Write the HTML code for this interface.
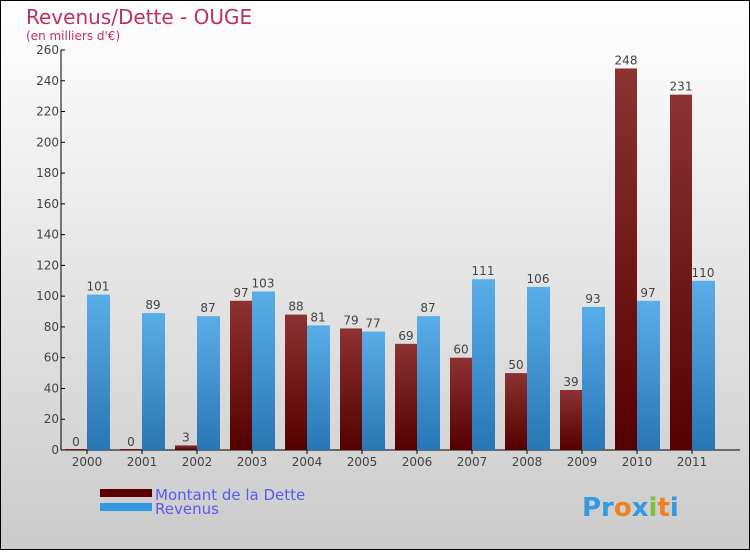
<!DOCTYPE html>
<html><head><meta charset="utf-8"><style>
body{margin:0}
svg text{font-family:"DejaVu Sans","Liberation Sans",sans-serif}
</style></head><body>
<svg width="750" height="550" xmlns="http://www.w3.org/2000/svg">
<defs>
<linearGradient id="bg" x1="0" y1="0" x2="0" y2="1"><stop offset="0" stop-color="#ffffff"/><stop offset="1" stop-color="#cbcbcb"/></linearGradient>
<linearGradient id="gd" x1="0" y1="0" x2="0" y2="1"><stop offset="0" stop-color="#8c3232"/><stop offset="1" stop-color="#550000"/></linearGradient>
<linearGradient id="gr" x1="0" y1="0" x2="0" y2="1"><stop offset="0" stop-color="#5aaee8"/><stop offset="1" stop-color="#2876b4"/></linearGradient>
</defs>
<rect x="0.5" y="0.5" width="749" height="549" fill="url(#bg)" stroke="#000"/>
<text x="26" y="24" font-size="20" fill="#c0305e">Revenus/Dette - OUGE</text>
<text x="26" y="40" font-size="12" fill="#c0305e">(en milliers d'€)</text>
<g id="axes"></g>
<g id="bars"></g>
<rect x="100" y="489" width="52" height="8" fill="#5a0000"/>
<text x="155" y="500" font-size="15" fill="#5a5af0">Montant de la Dette</text>
<rect x="100" y="503" width="52" height="8" fill="#3399e0"/>
<text x="155" y="514" font-size="15" fill="#5a5af0">Revenus</text>
<text x="582" y="516" font-size="26" font-weight="bold"><tspan fill="#3399e0">Pr</tspan><tspan fill="#f08020">o</tspan><tspan fill="#3399e0">x</tspan><tspan fill="#80c040">i</tspan><tspan fill="#f08020">t</tspan><tspan fill="#3399e0">i</tspan></text>
</svg>
<script>
const categories=["2000","2001","2002","2003","2004","2005","2006","2007","2008","2009","2010","2011"];
const dette=[0,0,3,97,88,79,69,60,50,39,248,231];
const revenus=[101,89,87,103,81,77,87,111,106,93,97,110];
const yTicks=[0,20,40,60,80,100,120,140,160,180,200,220,240,260];
const NS="http://www.w3.org/2000/svg";
const y0=450,yTop=50,yMax=260,x0=61,x1=740,gw=55,c0=87,bw=22;
const y=v=>y0-(v/yMax)*(y0-yTop);
const cx=i=>c0+i*gw;
function mk(t,a,p){const e=document.createElementNS(NS,t);for(const k in a)e.setAttribute(k,a[k]);p.appendChild(e);return e;}
const ax=document.getElementById('axes'),bs=document.getElementById('bars');
let l=mk('line',{x1:x0,y1:yTop,x2:x0,y2:y0,stroke:'#000'},ax);


l=mk('line',{x1:x0,y1:y0,x2:x1,y2:y0,stroke:'#000'},ax);


yTicks.forEach(v=>{
 const t=mk('line',{x1:x0,y1:y(v),x2:x0+4,y2:y(v),stroke:'#000'},ax);
 
 
 const tx=mk('text',{x:x0-2,y:y(v)+4,'font-size':12,'text-anchor':'end',fill:'#444'},ax);
 tx.textContent=v;
 
 
});
categories.forEach((c,i)=>{
 const tx=mk('text',{x:cx(i),y:466,'font-size':12,'text-anchor':'middle',fill:'#444'},ax);
 tx.textContent=c;
 
 
 const tk=mk('line',{x1:cx(i),y1:y0,x2:cx(i),y2:y0+4,stroke:'#000'},ax);
 
 
 const hd=Math.max(1,y0-y(dette[i]));
 const b1=mk('rect',{x:cx(i)-bw,y:y0-hd,width:bw,height:hd,fill:'url(#gd)'},bs);
 
 
 const hr=y0-y(revenus[i]);
 const b2=mk('rect',{x:cx(i),y:y(revenus[i]),width:bw+1,height:hr,fill:'url(#gr)'},bs);
 
 
 const l1=mk('text',{x:cx(i)-bw/2,y:y(dette[i])-4,'font-size':12,'text-anchor':'middle',fill:'#444'},bs);
 l1.textContent=dette[i];
 
 
 const l2=mk('text',{x:cx(i)+bw/2,y:y(revenus[i])-4,'font-size':12,'text-anchor':'middle',fill:'#444'},bs);
 l2.textContent=revenus[i];
 
 
});
</script>
</body></html>
